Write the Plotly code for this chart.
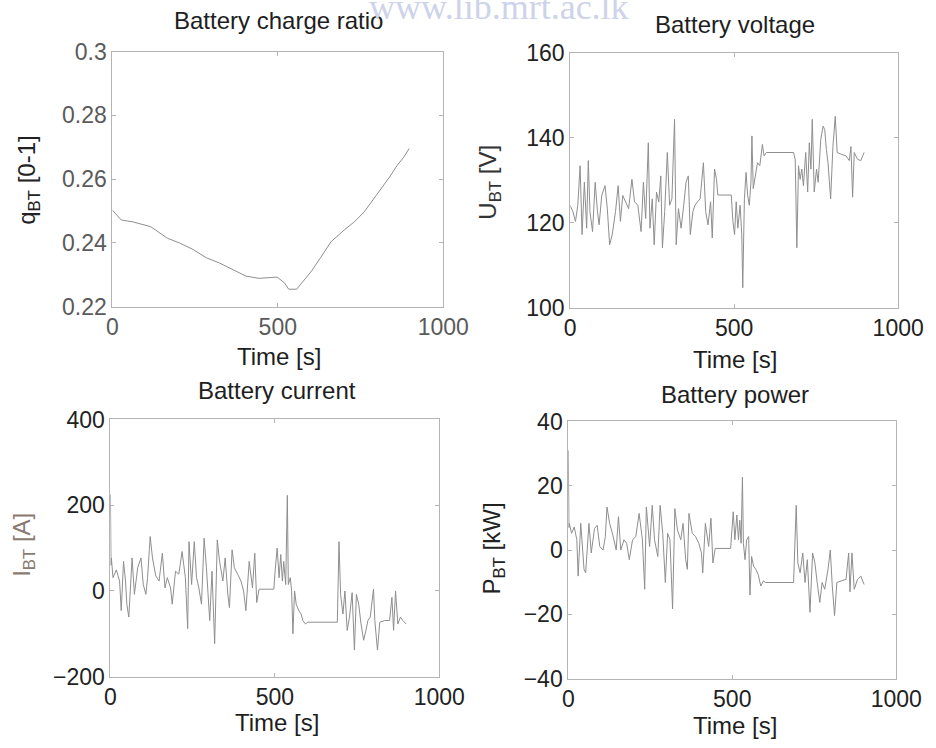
import plotly.graph_objects as go

# ---- battery charge ratio q_BT [0-1] ----
t_q = [0, 27, 62, 116, 166, 205, 245, 285, 324, 364,
       404, 443, 470, 498, 520, 533, 557, 580, 602, 630,
       661, 701, 730, 761, 790, 811, 840, 860, 880, 897]
q_bt = [0.2503, 0.2472, 0.2466, 0.2451, 0.2415, 0.2399, 0.2379, 0.2353, 0.2337, 0.2317,
        0.2296, 0.2289, 0.2291, 0.2293, 0.2275, 0.2255, 0.2255, 0.2283, 0.2312, 0.2355,
        0.2404, 0.2441, 0.2465, 0.2497, 0.2538, 0.2569, 0.2610, 0.2642, 0.2668, 0.2696]

# ---- battery voltage U_BT [V] ----
t_u = [0, 8, 16, 23, 30, 36, 43, 50, 55, 60,
       68, 76, 83, 88, 96, 106, 113, 120, 128, 138,
       146, 153, 160, 168, 178, 188, 196, 206, 216, 223,
       230, 238, 243, 250, 256, 263, 270, 276, 281, 288,
       296, 303, 310, 318, 323, 330, 338, 346, 353, 360,
       366, 374, 380, 388, 396, 406, 413, 420, 428, 433,
       440, 446, 450, 491, 496, 501, 506, 511, 518, 523,
       526, 531, 536, 541, 546, 551, 554, 558, 564, 571,
       578, 586, 591, 598, 681, 686, 691, 696, 701, 706,
       711, 718, 724, 729, 734, 738, 744, 751, 756, 764,
       771, 776, 781, 786, 794, 801, 808, 814, 826, 841,
       851, 856, 861, 866, 876, 886, 896]
u_bt = [124, 122.6, 120.3, 124.1, 133.4, 117.2, 129.5, 118.7, 134.6, 122.6,
        117.9, 129.5, 122.6, 119.5, 126.4, 128.7, 123.3, 114.8, 117.2, 122.6,
        128.7, 120.3, 126.4, 124.9, 123.3, 130.2, 124.9, 124.1, 117.9, 129.5,
        121, 138.8, 118.7, 125.6, 114.8, 127.2, 124.9, 131, 114.1, 122.6,
        136.5, 124.1, 125.6, 144.3, 114.8, 123.3, 118.7, 124.1, 129.5, 131,
        117.2, 122.6, 124.1, 124.9, 125.6, 134.1, 122.6, 119.5, 124.9, 116.4,
        132.6, 130.2, 126.5, 126.5, 120.3, 117.2, 124.9, 118.7, 124.1, 117.2,
        104.7, 125.6, 131.8, 126.4, 124.1, 129.5, 140.4, 128, 131, 134.1,
        133.4, 138.4, 135.7, 136.5, 136.5, 134.9, 114.1, 133.4, 130.2, 132.6,
        128.7, 136.5, 127.2, 138.8, 132.6, 144.3, 127.2, 132.6, 129.5, 139.6,
        142.7, 141.9, 137.2, 134.1, 125.6, 137.9, 145, 136.5, 136.1, 135.7,
        134.6, 137.9, 126, 136.5, 134.9, 134.6, 136.5]

# ---- battery current I_BT [A] ----
t_i = [0, 2, 3, 8, 18, 28, 33, 40, 46, 50,
       56, 66, 73, 83, 93, 100, 108, 113, 121, 128,
       138, 148, 158, 166, 173, 183, 188, 198, 208, 218,
       228, 235, 239, 247, 255, 262, 269, 277, 285, 292,
       302, 309, 317, 325, 332, 342, 349, 357, 362, 370,
       377, 387, 397, 405, 412, 422, 432, 439, 445, 452,
       497, 500, 507, 513, 518, 523, 527, 533, 538, 541,
       547, 551, 555, 560, 565, 573, 580, 585, 593, 600,
       690, 695, 700, 707, 713, 720, 727, 735, 742, 748,
       755, 762, 770, 777, 783, 790, 800, 804, 812, 819,
       834, 849, 856, 861, 867, 874, 882, 889, 899]
i_bt = [225, 60, 77, 31, 49, 23, -46, 69, 23, -31,
        -61, 77, -8, 54, 77, 15, -8, 31, 127, 77,
        35, 23, 88, 7, 31, 7, -31, 46, 39, 92,
        31, -88, 115, 15, 115, 31, 7, -31, 123, 54,
        -69, 46, -123, 119, 69, 23, 77, -8, -39, 96,
        54, 39, 23, 0, -46, 69, 7, 88, -27, 4,
        4, 39, 100, 31, 85, 23, 69, 15, 223, 15,
        31, 0, -100, 0, -31, -46, -54, -69, -77, -73,
        -73, 115, -8, -54, 0, -92, -61, -4, -138, -8,
        -31, -77, -115, -92, -69, -61, 4, -69, -138, -73,
        -69, -69, -15, -92, 0, -77, -61, -69, -77]

# ---- battery power P_BT [kW] ----
t_p = [0, 2, 3, 10, 18, 26, 30, 38, 43, 48,
       53, 63, 70, 80, 88, 96, 106, 113, 118, 126,
       136, 146, 153, 160, 170, 178, 186, 196, 206, 216,
       226, 233, 238, 248, 256, 263, 273, 280, 288, 296,
       303, 310, 318, 325, 333, 343, 350, 358, 363, 368,
       378, 388, 398, 406, 410, 418, 428, 435, 441, 448,
       495, 498, 503, 508, 514, 519, 523, 527, 531, 534,
       539, 544, 550, 554, 559, 565, 572, 579, 587, 595,
       602, 687, 695, 700, 707, 715, 722, 729, 737, 745,
       752, 759, 767, 774, 782, 792, 799, 805, 812, 819,
       832, 847, 855, 859, 865, 872, 882, 892, 902]
p_bt = [31, 7, 8.3, 5.2, 7.2, 3.2, -8.1, 8.3, 2.1, -6,
        -7.1, 8.3, -0.9, 6.7, 7.7, 1.1, 0, 4.2, 13.4, 8.3,
        4.6, 0, 10.4, 0, 3.2, 2.1, -3, 3.2, 4.2, 11.4,
        3.2, -12.2, 13.4, 1.1, 13.9, 3.2, -2, 13.9, 5.2, -10.1,
        5.2, 3.2, -18.3, 12.9, 6.2, 3.2, 8.3, -3, -6, 11.4,
        5.2, 4.2, 2.1, -0.9, -7.1, 8.3, 1.1, 9.9, -4, 0.5,
        0.5, 5.2, 11.9, 3.2, 10.9, 3.2, 9.3, 2.1, 22.7, 2.1,
        -3, 3.2, 4.2, -14, -2, -5, -6, -7.6, -11.2, -9.6,
        -10.1, -10.1, 13.9, -4, -7.1, -0.9, -10.1, -3, -19.4, -0.9,
        -4, -10.1, -16.3, -10.1, -12.2, -6, 0, -11.2, -20.4, -10.1,
        -9.6, -9.1, -0.9, -13, -0.9, -12.2, -9.1, -8.1, -10.7]

time_ticks = [0, 500, 1000]
q_ticks = [0.22, 0.24, 0.26, 0.28, 0.3]
q_tick_text = ["0.22", "0.24", "0.26", "0.28", "0.3"]
u_ticks = [100, 120, 140, 160]
i_ticks = [-200, 0, 200, 400]
p_ticks = [-40, -20, 0, 20, 40]

W, H = 936, 748
FONT = "Liberation Sans, Arial, Helvetica, sans-serif"
LINE = "#8e8e8e"
FRAME = "#b4b4b4"

# positions below are given in pixels of the drawing area (origin top-left)
AREA_X0, AREA_Y0, AREA_W, AREA_H = 3, 9, 918, 730


def px(x):
    return (x - AREA_X0) / AREA_W


def py(y):
    return 1 - (y - AREA_Y0) / AREA_H


fig = go.Figure()

panels = [
    dict(x=t_q, y=q_bt, xd=(111, 447), yd=(48, 306), yr=[0.22, 0.3], yt=q_ticks, ytt=q_tick_text,
         title="Battery charge ratio", tpos=(280, 17),
         ylab="q<sub>BT</sub> [0-1]", ylpos=(25, 178), xlpos=(280, 356), tc="#5a5a5a", ylc="#222222"),
    dict(x=t_u, y=u_bt, xd=(576, 909), yd=(49, 307), yr=[100, 160], yt=u_ticks, ytt=None,
         title="Battery voltage", tpos=(743, 21),
         ylab="U<sub>BT</sub> [V]", ylpos=(494, 180), xlpos=(743, 359), tc="#222222", ylc="#333333"),
    dict(x=t_i, y=i_bt, xd=(109, 443), yd=(420, 680), yr=[-200, 400], yt=i_ticks, ytt=None,
         title="Battery current", tpos=(278, 391),
         ylab="I<sub>BT</sub> [A]", ylpos=(20, 547), xlpos=(278, 726), tc="#222222", ylc="#8a7a72"),
    dict(x=t_p, y=p_bt, xd=(574, 907), yd=(422, 682), yr=[-40, 40], yt=p_ticks, ytt=None,
         title="Battery power", tpos=(743, 395),
         ylab="P<sub>BT</sub> [kW]", ylpos=(498, 550), xlpos=(743, 729), tc="#222222", ylc="#222222"),
]

layout_axes = {}
annotations = []
for k, p in enumerate(panels, start=1):
    xa = "x" if k == 1 else f"x{k}"
    ya = "y" if k == 1 else f"y{k}"
    fig.add_trace(go.Scatter(
        x=p["x"], y=p["y"], mode="lines", xaxis=xa, yaxis=ya,
        line=dict(color=LINE, width=1), showlegend=False, hoverinfo="skip",
    ))
    common = dict(
        showline=True, linecolor=FRAME, linewidth=1, mirror="ticks",
        ticks="inside", ticklen=4, tickcolor=FRAME, showgrid=False, zeroline=False,
        tickfont=dict(family=FONT, size=23, color=p["tc"]),
    )
    layout_axes["xaxis" if k == 1 else f"xaxis{k}"] = dict(
        domain=[px(p["xd"][0]), px(p["xd"][1])], range=[0, 1000],
        tickvals=time_ticks, anchor=ya, ticklabelstandoff=0, **common,
    )
    yax = dict(
        domain=[py(p["yd"][1]), py(p["yd"][0])], range=p["yr"],
        tickvals=p["yt"], anchor=xa, ticklabelstandoff=0, **common,
    )
    if p["ytt"] is not None:
        yax["ticktext"] = p["ytt"]
    layout_axes["yaxis" if k == 1 else f"yaxis{k}"] = yax

    annotations.append(dict(
        text=p["title"], x=px(p["tpos"][0]), y=py(p["tpos"][1]), xref="paper", yref="paper",
        xanchor="center", yanchor="middle", showarrow=False,
        font=dict(family=FONT, size=24, color="#1e1e1e"),
    ))
    annotations.append(dict(
        text="Time [s]", x=px(p["xlpos"][0]), y=py(p["xlpos"][1]), xref="paper", yref="paper",
        xanchor="center", yanchor="middle", showarrow=False,
        font=dict(family=FONT, size=24, color="#1e1e1e"),
    ))
    annotations.append(dict(
        text=p["ylab"], x=px(p["ylpos"][0]), y=py(p["ylpos"][1]), xref="paper", yref="paper",
        xanchor="center", yanchor="middle", showarrow=False, textangle=-90,
        font=dict(family=FONT, size=24, color=p["ylc"]),
    ))

# library watermark along the top edge
annotations.append(dict(
    text="www.lib.mrt.ac.lk", x=px(370), y=py(25), xref="paper", yref="paper",
    xanchor="left", yanchor="bottom", showarrow=False,
    font=dict(family="Liberation Serif, Times New Roman, serif", size=36, color="#cdd3ea"),
))

fig.update_layout(
    width=W, height=H, margin=dict(l=0, r=0, t=0, b=0),
    paper_bgcolor="white", plot_bgcolor="white",
    annotations=annotations, **layout_axes,
)

fig.write_html("out.html")
